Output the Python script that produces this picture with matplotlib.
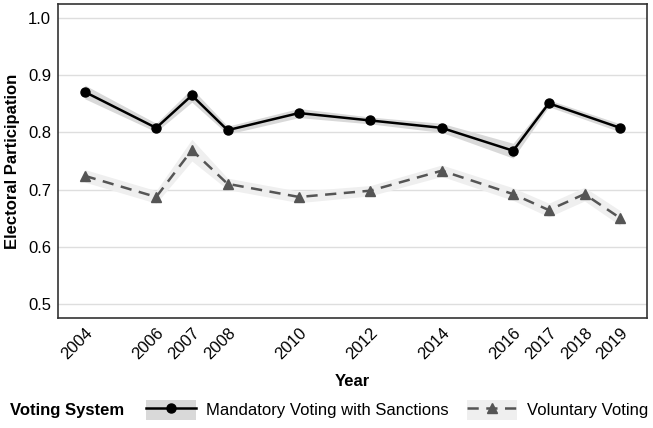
import matplotlib.pyplot as plt
from matplotlib.lines import Line2D
from matplotlib.patches import Patch

plt.rcParams['font.family'] = ['Liberation Sans', 'DejaVu Sans']

years_m = [2004, 2006, 2007, 2008, 2010, 2012, 2014, 2016, 2017, 2019]
mand = [0.871, 0.808, 0.865, 0.804, 0.834, 0.821, 0.808, 0.768, 0.851, 0.808]
mand_lo = [0.859, 0.801, 0.853, 0.797, 0.826, 0.815, 0.800, 0.755, 0.845, 0.801]
mand_hi = [0.883, 0.816, 0.877, 0.811, 0.842, 0.827, 0.816, 0.781, 0.857, 0.815]

years_v = [2004, 2006, 2007, 2008, 2010, 2012, 2014, 2016, 2017, 2018, 2019]
vol = [0.724, 0.687, 0.769, 0.710, 0.687, 0.698, 0.733, 0.692, 0.664, 0.692, 0.650]
vol_lo = [0.713, 0.676, 0.750, 0.700, 0.677, 0.689, 0.723, 0.681, 0.652, 0.680, 0.637]
vol_hi = [0.735, 0.698, 0.788, 0.720, 0.697, 0.707, 0.743, 0.703, 0.676, 0.704, 0.663]

ticks = [2004, 2006, 2007, 2008, 2010, 2012, 2014, 2016, 2017, 2018, 2019]

fig = plt.figure(figsize=(6.53, 4.28), dpi=100)
ax = fig.add_axes([58/653, 1 - 318/428, 589/653, 314/428])

ax.fill_between(years_m, mand_lo, mand_hi, color='#d9d9d9', lw=0, zorder=1)
ax.fill_between(years_v, vol_lo, vol_hi, color='#efefef', lw=0, zorder=1)
ax.plot(years_m, mand, '-o', color='black', lw=1.8, ms=6.5, zorder=3)
ax.plot(years_v, vol, '--^', color='#555555', lw=1.8, ms=7, dashes=(4.5, 3), zorder=3)

ax.set_xlim(2003.25, 2019.75)
ax.set_ylim(0.475, 1.025)
ax.set_yticks([0.5, 0.6, 0.7, 0.8, 0.9, 1.0])
ax.set_yticklabels(['0.5', '0.6', '0.7', '0.8', '0.9', '1.0'])
ax.set_xticks(ticks)
ax.set_xticklabels([str(t) for t in ticks], rotation=45, ha='right', rotation_mode='anchor')
ax.tick_params(length=0, labelsize=12, colors='black', pad=5)
ax.yaxis.grid(True, color='#dedede', lw=1)
ax.set_axisbelow(True)
for s in ax.spines.values():
    s.set_color('#333333')
    s.set_linewidth(1.2)

ax.set_ylabel('Electoral Participation', fontsize=12, fontweight='bold', labelpad=6)
fig.text(352/653, 1 - 381/428, 'Year', fontsize=12, fontweight='bold', ha='center', va='center')

fig.text(10/653, 1 - 410/428, 'Voting System', fontsize=12, fontweight='bold', ha='left', va='center')
h1 = (Patch(facecolor='#d9d9d9', edgecolor='none'),
      Line2D([], [], color='black', marker='o', lw=1.8, ms=6.5))
h2 = (Patch(facecolor='#efefef', edgecolor='none'),
      Line2D([], [], color='#555555', marker='^', ls='--', lw=1.8, ms=7, dashes=(4.5, 3)))
fig.legend([h1, h2], ['Mandatory Voting with Sanctions', 'Voluntary Voting'],
           loc='center left', bbox_to_anchor=(143/653, 1 - 410/428), ncol=2,
           frameon=False, fontsize=12, handlelength=3.0, handleheight=1.5,
           handletextpad=0.6, columnspacing=1.1, borderaxespad=0, borderpad=0.2)

fig.savefig('out.png', dpi=100)
